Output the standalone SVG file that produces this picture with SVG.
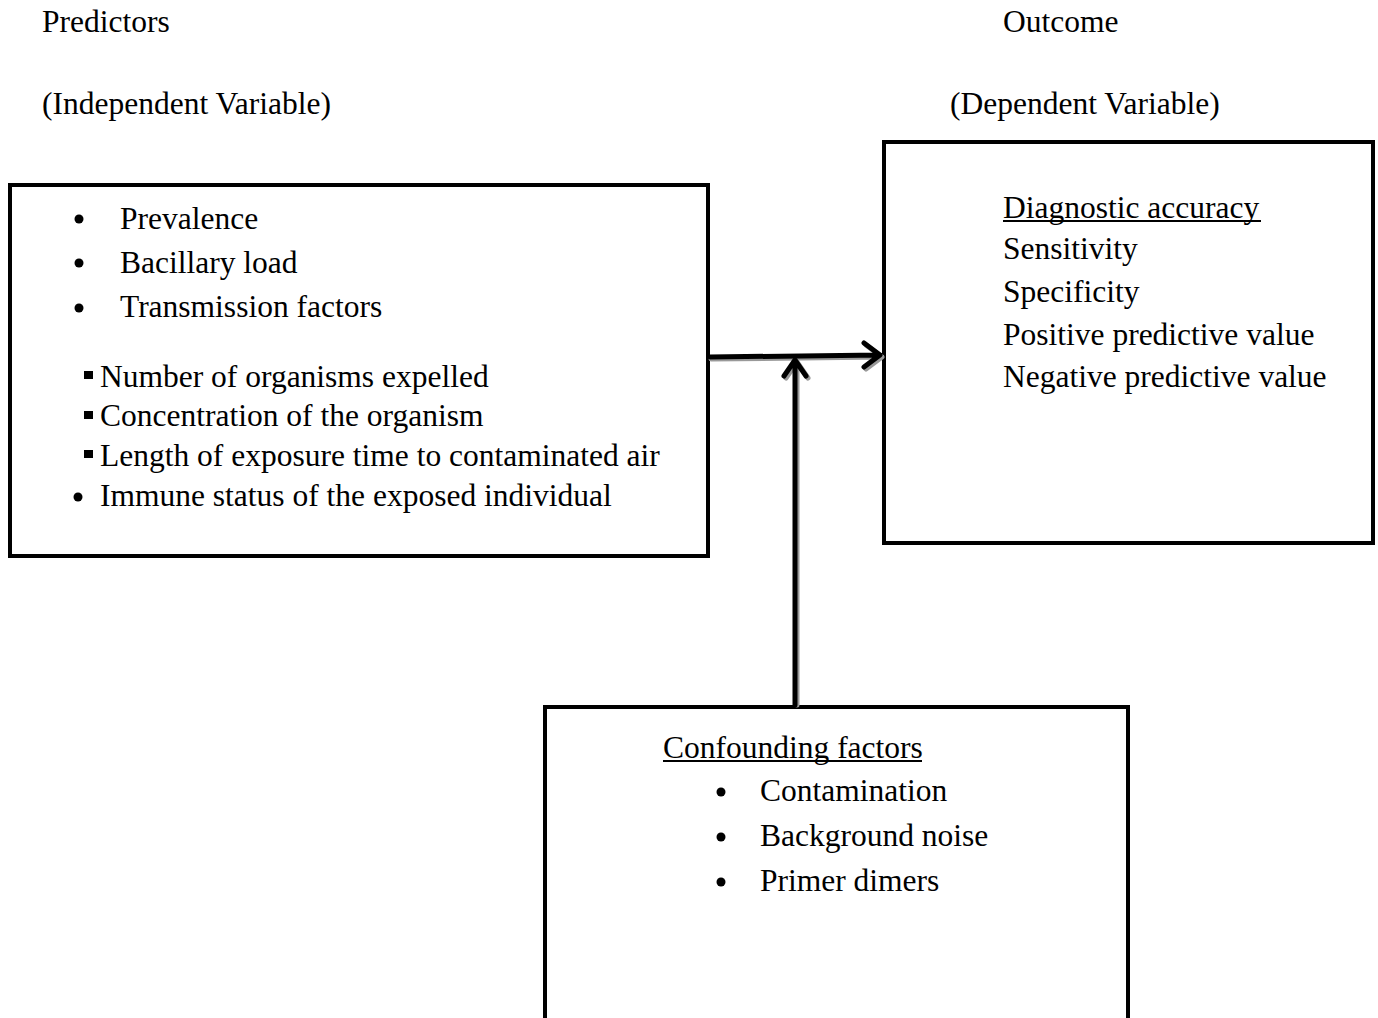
<svg xmlns="http://www.w3.org/2000/svg" width="1378" height="1018" viewBox="0 0 1378 1018">
<style>
text{font-family:"Liberation Serif","Times New Roman",serif;font-size:31.5px;fill:#000}
.box{fill:#fff;stroke:#000;stroke-width:4}
.ln{fill:none;stroke:#000;stroke-width:5;stroke-linecap:round;stroke-linejoin:round}
.sh{fill:none;stroke:#999;stroke-width:5;stroke-linecap:round;stroke-linejoin:round}
.ul{stroke:#000;stroke-width:2}
</style>
<rect width="1378" height="1018" fill="#fff"/>
<g id="headers">
<text x="42" y="32">Predictors</text>
<text x="42" y="114">(Independent Variable)</text>
<text x="1003" y="32">Outcome</text>
<text x="950" y="114">(Dependent Variable)</text>
</g>
<g id="predictors">
<rect class="box" x="10" y="185" width="698" height="371"/>
<circle cx="79" cy="219" r="4.5"/><text x="120" y="229">Prevalence</text>
<circle cx="79" cy="263" r="4.5"/><text x="120" y="273">Bacillary load</text>
<circle cx="79" cy="308" r="4.5"/><text x="120" y="317">Transmission factors</text>
<rect x="84" y="371" width="9" height="8"/><text x="100" y="387">Number of organisms expelled</text>
<rect x="84" y="411" width="9" height="8"/><text x="100" y="426">Concentration of the organism</text>
<rect x="84" y="450" width="9" height="8"/><text x="100" y="466">Length of exposure time to contaminated air</text>
<circle cx="78" cy="497" r="4.5"/><text x="100" y="506">Immune status of the exposed individual</text>
</g>
<g id="outcome">
<rect class="box" x="884" y="142" width="489" height="401"/>
<text x="1003" y="218">Diagnostic accuracy</text>
<line class="ul" x1="1003" y1="221" x2="1261" y2="221"/>
<text x="1003" y="259">Sensitivity</text>
<text x="1003" y="302">Specificity</text>
<text x="1003" y="345">Positive predictive value</text>
<text x="1003" y="387">Negative predictive value</text>
</g>
<g id="confounders">
<path class="box" d="M545 1020 V707 H1128 V1020"/>
<text x="663" y="758">Confounding factors</text>
<line class="ul" x1="663" y1="761" x2="922" y2="761"/>
<circle cx="721" cy="792" r="4.5"/><text x="760" y="801">Contamination</text>
<circle cx="721" cy="837" r="4.5"/><text x="760" y="846">Background noise</text>
<circle cx="721" cy="882" r="4.5"/><text x="760" y="891">Primer dimers</text>
</g>
<g id="connectors">
<path class="sh" d="M711 359 L882 357 M866 345 L882 357 L866 369"/>
<path class="ln" d="M710 357 L880 355 M864 343 L880 355 L864 367"/>
<path class="sh" d="M797 705 V362 M786 378 L797 362 L808 378"/>
<path class="ln" d="M795 705 V360 M784 376 L795 360 L806 376"/>
</g>
</svg>
